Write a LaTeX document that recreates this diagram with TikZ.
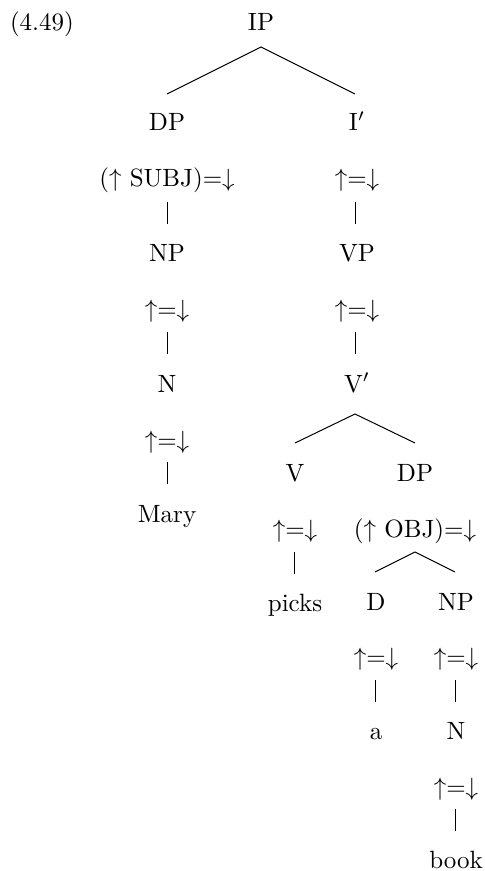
\documentclass[tikz,border=0pt]{standalone}
\begin{document}
\begin{tikzpicture}[x=0.4pt,y=-0.4pt,
  lbl/.style={anchor=base,inner sep=0pt,outer sep=0pt},
  edge/.style={line width=0.4pt}]
\useasboundingbox (0,0) rectangle (485,871);
% number
\node[lbl,anchor=base west] (num) at (10,31) {(4.49)};
% level 0
\node[lbl] (ip) at (261,31) {IP};
% level 1
\node[lbl] (dp1) at (167,131) {DP};
\node[lbl] (ibar) at (357,131) {I$'$};
\node[lbl] (a1) at (167,187) {($\uparrow$ SUBJ)=$\downarrow$};
\node[lbl] (a2) at (357,187) {$\uparrow$=$\downarrow$};
\node[lbl] (np1) at (167,262) {NP};
\node[lbl] (vp) at (357,262) {VP};
\node[lbl] (a3) at (167,318) {$\uparrow$=$\downarrow$};
\node[lbl] (a4) at (357,318) {$\uparrow$=$\downarrow$};
\node[lbl] (n1) at (167,392) {N};
\node[lbl] (vbar) at (357,392) {V$'$};
\node[lbl] (a5) at (167,448) {$\uparrow$=$\downarrow$};
\node[lbl] (mary) at (167,522) {Mary};
\node[lbl] (v) at (295,481) {V};
\node[lbl] (dp2) at (415,481) {DP};
\node[lbl] (a6) at (295,537) {$\uparrow$=$\downarrow$};
\node[lbl] (a7) at (415,537) {($\uparrow$ OBJ)=$\downarrow$};
\node[lbl] (picks) at (295,611) {picks};
\node[lbl] (d) at (376,610) {D};
\node[lbl] (np2) at (456,610) {NP};
\node[lbl] (a8) at (376,665) {$\uparrow$=$\downarrow$};
\node[lbl] (a9) at (456,665) {$\uparrow$=$\downarrow$};
\node[lbl] (art) at (376,739) {a};
\node[lbl] (n2) at (456,739) {N};
\node[lbl] (a10) at (456,795) {$\uparrow$=$\downarrow$};
\node[lbl] (book) at (456,868) {book};
% forks
\coordinate (f1) at (261,47);
\coordinate (f1l) at (167,94);
\coordinate (f1r) at (355,94);
\draw[edge] (f1l) -- (f1) -- (f1r);
\coordinate (f2) at (355,414);
\coordinate (f2l) at (295,443);
\coordinate (f2r) at (415,443);
\draw[edge] (f2l) -- (f2) -- (f2r);
\coordinate (f3) at (415,552);
\coordinate (f3l) at (375,572);
\coordinate (f3r) at (455,572);
\draw[edge] (f3l) -- (f3) -- (f3r);
% vertical bars
\foreach \x/\ya/\yb in {167/202/224, 355/202/224, 167/332/354, 355/332/354, 167/462/484, 294/552/574, 375/680/702, 455/680/702, 455/809/831}
  \draw[edge] (\x,\ya) -- (\x,\yb);
\end{tikzpicture}
\end{document}
